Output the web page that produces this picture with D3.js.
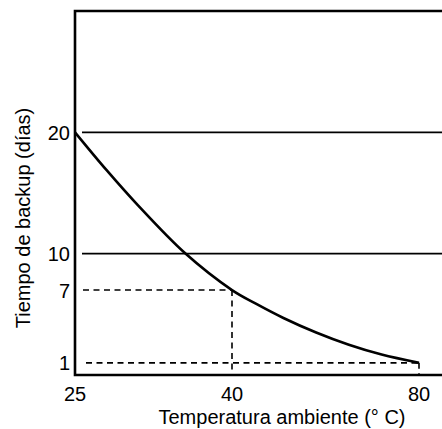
<!DOCTYPE html>
<html>
<head>
<meta charset="utf-8">
<script src="https://cdn.jsdelivr.net/npm/d3@7"></script>
<style>
  body { margin: 0; background: #fff; }
  svg { display: block; font-family: 'Liberation Sans', Arial, Helvetica, sans-serif; }
  text { fill: #000; }
</style>
</head>
<body>
<svg id="chart" width="442" height="429"></svg>
<script>
// datos
var temps = [25, 28, 31, 35.5, 40, 45, 51, 58, 65, 72, 80];
var days = [20, 16.9, 14.0, 10.05, 7, 5.9, 4.7, 3.5, 2.49, 1.68, 1];
var xTicks = [25, 40, 80];
var yTicks = [1, 7, 10, 20];
var gridSolid = [20, 10];
// lineas de referencia punteadas: [temperatura, dias]
var refTemps = [40, 80];
var refDays = [7, 1];

var xLabel = 'Temperatura ambiente (\u00b0 C)';
var yLabel = 'Tiempo de backup (d\u00edas)';

(function() {
  'use strict';

  var svg = d3.select('#chart');
  var W = 442;

  // el eje x no es lineal: 25-40 ocupa casi lo mismo que 40-80
  var x = d3.scaleLinear()
      .domain([25, 40, 80, 85])
      .range([75, 232, 419, 442]);
  var y = d3.scaleLinear()
      .domain([0, 30])
      .range([375, 11]);

  // lineas horizontales continuas (20 y 10)
  svg.selectAll('line.grid')
      .data(gridSolid)
      .enter()
      .append('line')
      .attr('class', 'grid')
      .attr('x1', x(25) + 7)
      .attr('x2', W)
      .attr('y1', function(d) { return y(d); })
      .attr('y2', function(d) { return y(d); })
      .attr('stroke', '#000')
      .attr('stroke-width', 1.6);

  // punteadas horizontales
  var refs = refTemps.map(function(t, i) { return {t: t, d: refDays[i]}; });
  svg.selectAll('line.refh')
      .data(refs)
      .enter()
      .append('line')
      .attr('class', 'refh')
      .attr('x1', function(d, i) { return x(25) + (i === 0 ? 8 : 11); })
      .attr('x2', function(d) { return x(d.t); })
      .attr('y1', function(d) { return y(d.d); })
      .attr('y2', function(d) { return y(d.d); })
      .attr('stroke', '#000')
      .attr('stroke-width', 1.6)
      .attr('stroke-dasharray', '6,4.5');

  // punteadas verticales
  svg.selectAll('line.refv')
      .data(refs)
      .enter()
      .append('line')
      .attr('class', 'refv')
      .attr('x1', function(d) { return x(d.t); })
      .attr('x2', function(d) { return x(d.t); })
      .attr('y1', function(d) { return y(d.d); })
      .attr('y2', y(0))
      .attr('stroke', '#000')
      .attr('stroke-width', 1.6)
      .attr('stroke-dasharray', '6,4.5');

  // curva
  var pts = temps.map(function(t, i) { return [t, days[i]]; });
  var line = d3.line()
      .x(function(d) { return x(d[0]); })
      .y(function(d) { return y(d[1]); })
      .curve(d3.curveCatmullRom.alpha(0.5));

  svg.append('path')
      .datum(pts)
      .attr('d', line)
      .attr('fill', 'none')
      .attr('stroke', '#000')
      .attr('stroke-width', 2.6);

  // marco: izquierda, arriba, abajo
  svg.append('path')
      .attr('d', 'M' + W + ',' + y(30) + 'H' + x(25) + 'V' + y(0) + 'H' + W)
      .attr('fill', 'none')
      .attr('stroke', '#000')
      .attr('stroke-width', 2.6);

  // etiquetas eje y
  svg.selectAll('text.ytick')
      .data(yTicks)
      .enter()
      .append('text')
      .attr('class', 'ytick')
      .attr('x', x(25) - 5)
      .attr('y', function(d) { return y(d); })
      .attr('dy', '0.38em')
      .attr('text-anchor', 'end')
      .style('font-size', '20px')
      .text(function(d) { return d; });

  // etiquetas eje x
  svg.selectAll('text.xtick')
      .data(xTicks)
      .enter()
      .append('text')
      .attr('class', 'xtick')
      .attr('x', function(d) { return x(d); })
      .attr('y', 401)
      .attr('text-anchor', 'middle')
      .style('font-size', '20px')
      .text(function(d) { return d; });

  // titulos
  svg.append('text')
      .attr('x', 282)
      .attr('y', 424)
      .attr('text-anchor', 'middle')
      .style('font-size', '20px')
      .text(xLabel);

  svg.append('text')
      .attr('transform', 'translate(29.5,218) rotate(-90)')
      .attr('text-anchor', 'middle')
      .style('font-size', '20px')
      .text(yLabel);
})();
</script>
</body>
</html>
